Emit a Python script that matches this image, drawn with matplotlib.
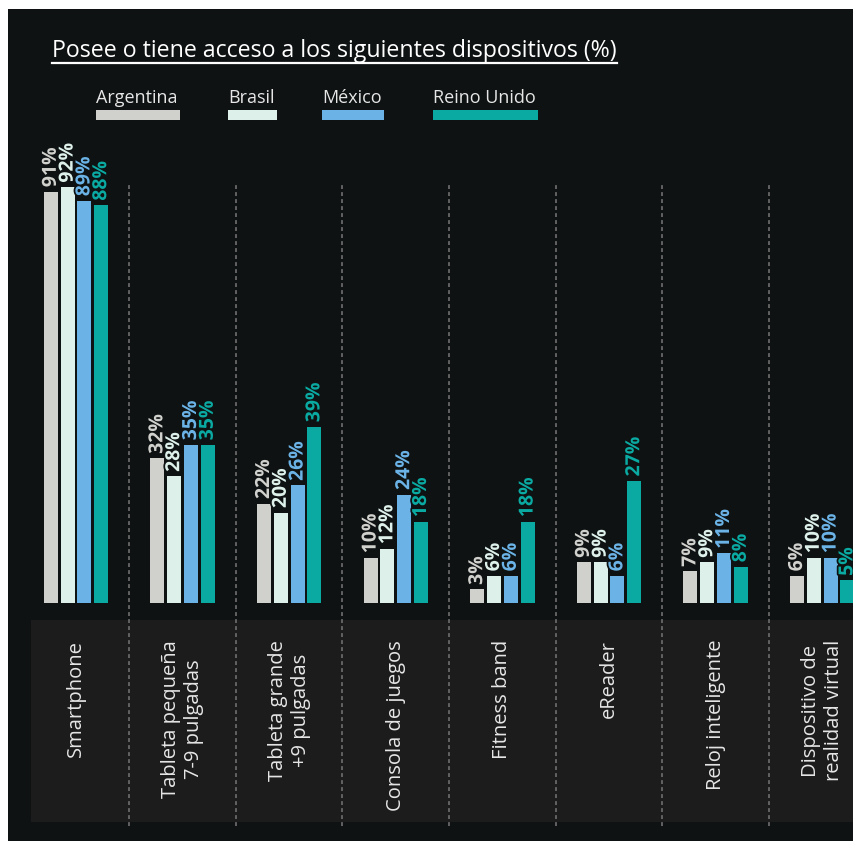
import matplotlib
matplotlib.use("Agg")
import matplotlib.pyplot as plt
import matplotlib.patheffects as pe
from matplotlib.patches import Rectangle

plt.rcParams['font.family'] = ['Open Sans', 'DejaVu Sans']

categories = [
    "Smartphone",
    "Tableta pequeña\n7-9 pulgadas",
    "Tableta grande\n+9 pulgadas",
    "Consola de juegos",
    "Fitness band",
    "eReader",
    "Reloj inteligente",
    "Dispositivo de\nrealidad virtual",
]
countries = ["Argentina", "Brasil", "México", "Reino Unido"]
argentina = [91, 32, 22, 10, 3, 9, 7, 6]
brasil = [92, 28, 20, 12, 6, 9, 9, 10]
mexico = [89, 35, 26, 24, 6, 6, 11, 10]
reino_unido = [88, 35, 39, 18, 18, 27, 8, 5]
series = [argentina, brasil, mexico, reino_unido]
colors = ["#d0d0cd", "#ddf0ea", "#6bb3e6", "#0aa9a2"]

title = "Posee o tiene acceso a los siguientes dispositivos (%)"

W, H = 854, 841
BG = "#0e1212"
BAND = "#1c1c1c"

fig = plt.figure(figsize=(W / 100, H / 100), dpi=100, facecolor="white")

# dark canvas
ax = fig.add_axes([8 / W, 0, (W - 8) / W, (H - 9) / H])
ax.set_facecolor(BG)
for s in ax.spines.values():
    s.set_visible(False)
ax.set_xticks([])
ax.set_yticks([])

# x: one unit per category group; y: percent
px_per_group = 106.6
x0_pix = 76 - 8
ax.set_xlim(-x0_pix / px_per_group, (W - 8 - x0_pix) / px_per_group)
px_per_pct = 4.52
base_row = 603
ax.set_ylim(-(H - base_row) / px_per_pct, (base_row - 9) / px_per_pct)

def yrow(p):
    # pixel row (from top of figure) -> data y
    return (base_row - p) / px_per_pct

n = len(categories)
step = 16.8 / px_per_group
bw = 14 / px_per_group
offsets = [(-1.5 + i) * step for i in range(4)]

# category label band
ax.add_patch(Rectangle((-(76 - 31) / px_per_group, yrow(822)),
                       n + 1, yrow(620) - yrow(822),
                       facecolor=BAND, edgecolor="none", zorder=1))

# dashed separators between groups
for i in range(n - 1):
    ax.plot([i + 0.5, i + 0.5], [yrow(826), yrow(185)], color="#626262",
            lw=1.4, ls=(0, (2, 1.6)), zorder=2)

outline = [pe.withStroke(linewidth=2.5, foreground=BG)]
for k, (vals, col) in enumerate(zip(series, colors)):
    xs = [i + offsets[k] for i in range(n)]
    ax.bar(xs, vals, width=bw, color=col, zorder=3, align="center")
    for x, v in zip(xs, vals):
        ax.text(x, v + 1.0, f"{v}%", rotation=90, ha="center", va="bottom",
                color=col, fontsize=14, fontweight="bold", zorder=4,
                path_effects=outline)

for i, c in enumerate(categories):
    ax.text(i, yrow(640), c, rotation=90, ha="center", va="top",
            multialignment="center", color="#e6e6e6", fontsize=14.5,
            linespacing=1.2, zorder=4)

# title with underline
t = fig.text(52 / W, 1 - 51 / H, title, ha="left", va="center",
             color="white", fontsize=16.7)
fig.canvas.draw()
r = fig.canvas.get_renderer()
bb = t.get_window_extent(r)
fig.add_artist(plt.Line2D([bb.x0, bb.x1], [H - 63, H - 63],
                          transform=None, color="white", lw=1.6))

# legend: name above a colored swatch of the same width
leg_x = [96, 228, 322, 433]
for name, col, lx in zip(countries, colors, leg_x):
    tt = fig.text(lx / W, 1 - 98 / H, name, ha="left", va="center",
                  color="#e6e6e6", fontsize=13)
    fig.canvas.draw()
    tb = tt.get_window_extent(r)
    fig.add_artist(Rectangle((tb.x0, H - 120), tb.width + 2, 10,
                             transform=None, facecolor=col,
                             edgecolor="none"))

fig.savefig("out.png", dpi=100, facecolor=fig.get_facecolor())
